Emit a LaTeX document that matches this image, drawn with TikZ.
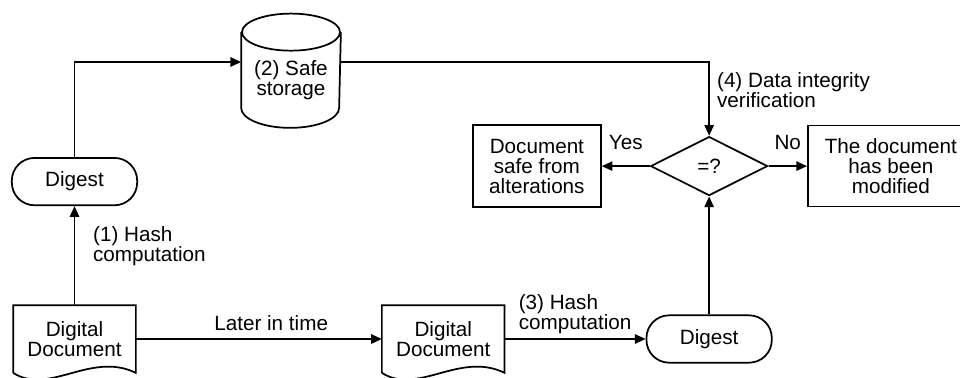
\documentclass[tikz,border=0pt]{standalone}
\usepackage{fontspec}
\setmainfont{Liberation Sans}
\usetikzlibrary{shapes, arrows.meta, positioning}

\begin{document}
\begin{tikzpicture}[
    x=0.75pt, y=-0.75pt,
    line width=1.3pt,
    every node/.style={font=\fontsize{15.5pt}{15pt}\selectfont},
    >={Triangle[length=8pt, width=7pt]},
    doc/.style={rectangle, minimum width=90.75pt, minimum height=49.5pt, inner sep=0pt, align=center},
    digest/.style={rectangle, draw, rounded corners=17pt, fill=white, minimum width=94pt, minimum height=35.5pt, inner sep=0pt},
    result/.style={rectangle, draw, fill=white, inner sep=0pt, align=center},
    check/.style={diamond, draw, fill=white, inner sep=0pt, minimum width=87.75pt, minimum height=44.25pt},
    store/.style={rectangle, minimum width=73.5pt, minimum height=70.5pt, inner sep=0pt, align=center}
]
\useasboundingbox (0,0) rectangle (960,378);

% First hashing
\node[doc] (Doc1) at (74.5,339) {Digital\\Document};
\node[digest, above=74.25pt of Doc1] (Digest1) {Digest};

% Safe storage
\node[store] (Storage) at (291,80) {(2) Safe\\storage};
\draw (Storage.north west) -- ([yshift=15pt]Storage.south west)
    arc[start angle=180, end angle=360, x radius=36.75pt, y radius=15pt]
    -- (Storage.north east);
\draw (Storage.north) ellipse [x radius=36.75pt, y radius=13.9pt];

% Second hashing
\node[doc, right=184.5pt of Doc1] (Doc2) {Digital\\Document};
\node[digest, right=105.75pt of Doc2] (Digest2) {Digest};

% Document outlines
\draw (Doc1.south west) -- (Doc1.north west) -- (Doc1.north east) -- (Doc1.south east)
    .. controls +(-45,-22) and +(36,23) .. (Doc1.south west);
\draw (Doc2.south west) -- (Doc2.north west) -- (Doc2.north east) -- (Doc2.south east)
    .. controls +(-45,-22) and +(36,23) .. (Doc2.south west);

% Verification
\node[check, above=88.5pt of Digest2] (Compare) {=?};
\node[result, left=36pt of Compare, minimum width=96pt, minimum height=61.5pt] (Safe) {Document\\safe from\\alterations};
\node[result, right=28.9pt of Compare, minimum width=124.5pt, minimum height=60.75pt] (Modified) {The document\\has been\\modified};

% Connections
\draw[->] (Doc1) -- (Digest1) node[pos=0.6, right=10pt, align=left] {(1) Hash\\computation};
\draw[->] (Digest1) |- ([yshift=13.5pt]Storage.west);
\draw[->] ([yshift=13.5pt]Storage.east) -| (Compare) node[pos=0.69, right=2pt, align=left] {(4) Data integrity\\verification};
\draw[->] (Doc1) -- (Doc2) node[pos=0.55, above=2pt] {Later in time};
\draw[->] (Doc2) -- (Digest2) node[midway, above=0pt, align=left] {(3) Hash\\computation};
\draw[->] (Digest2) -- (Compare);
\draw[->] (Compare) -- (Safe) node[midway, above=8pt] {Yes};
\draw[->] (Compare) -- (Modified) node[midway, above=8pt] {No};

\end{tikzpicture}
\end{document}
